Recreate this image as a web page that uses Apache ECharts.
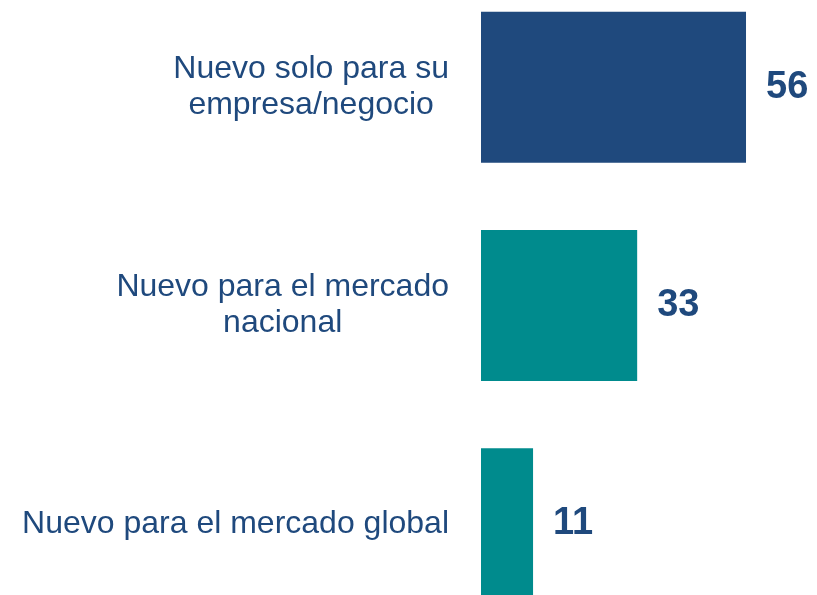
<!DOCTYPE html>
<html>
<head>
<meta charset="utf-8">
<script src="https://cdn.jsdelivr.net/npm/echarts@6/dist/echarts.min.js"></script>
<style>
  html, body { margin: 0; padding: 0; background: #fff; }
  #chart { width: 817px; height: 595px; }
</style>
</head>
<body>
<div id="chart"></div>
<script>
// datos del gráfico
const categories = [
  'Nuevo solo para su\nempresa/negocio',
  'Nuevo para el mercado\nnacional',
  'Nuevo para el mercado global'
];
const values = [56, 33, 11];
const barColors = ['#1F497D', '#008B8D', '#008B8D'];

const chart = echarts.init(document.getElementById('chart'));

const option = {
  backgroundColor: '#ffffff',
  animation: false,
  grid: {
    left: 481,
    right: 0,
    top: -22,
    bottom: -38,
    outerBoundsMode: 'none',
    containLabel: false
  },
  xAxis: {
    type: 'value',
    min: 0,
    max: 71,
    show: false
  },
  yAxis: {
    type: 'category',
    inverse: true,
    data: categories,
    axisLine: { show: false },
    axisTick: { show: false },
    splitLine: { show: false },
    axisLabel: {
      margin: 32,
      color: '#1F497D',
      fontFamily: 'Liberation Sans, Arial, sans-serif',
      fontSize: 32,
      lineHeight: 36,
      formatter: function (value) {
        // cada línea centrada dentro del bloque
        return value.split('\n').map(function (l) { return '{c|' + l + '}'; }).join('\n');
      },
      rich: {
        c: {
          align: 'center',
          color: '#1F497D',
          fontFamily: 'Liberation Sans, Arial, sans-serif',
          fontSize: 32,
          lineHeight: 36
        }
      }
    }
  },
  series: [
    {
      type: 'bar',
      barWidth: 151,
      data: values.map(function (v, i) {
        return { value: v, itemStyle: { color: barColors[i] } };
      }),
      label: {
        show: true,
        position: 'right',
        distance: 20,
        color: '#1F497D',
        fontFamily: 'Liberation Sans, Arial, sans-serif',
        fontWeight: 'bold',
        fontSize: 38
      }
    }
  ]
};

chart.setOption(option);
</script>
</body>
</html>
